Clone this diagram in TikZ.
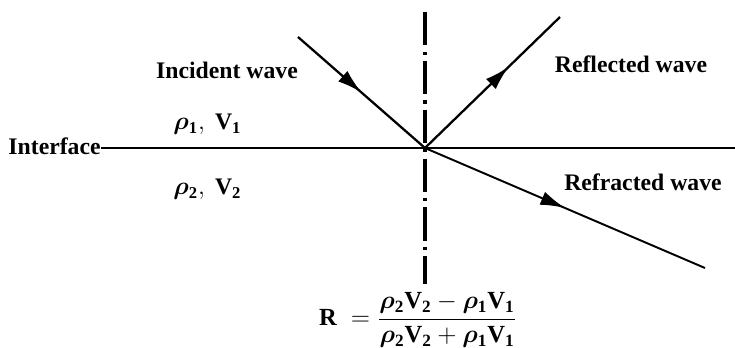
\documentclass[tikz,border=0pt]{standalone}
\usepackage{amsmath}
\usepackage{bm}
\usepackage{fontspec}
\setmainfont{Liberation Serif}
\usetikzlibrary{arrows.meta, decorations.markings}

\begin{document}
\begin{tikzpicture}[
    x=0.02cm, y=-0.02cm,
    lbl/.style={font=\fontsize{13.5}{15}\selectfont\bfseries, inner sep=0pt},
    eqn/.style={font=\fontsize{14}{16}\selectfont, inner sep=0pt},
    ray/.style={line width=1.3pt, postaction={decorate},
        decoration={markings, mark=at position #1 with {\arrow{Latex[length=14pt,width=8pt]}}}},
    normal/.style={line width=2.2pt, dash pattern=on 19pt off 3.5pt on 1.8pt off 3.5pt},
    iface/.style={line width=0.6pt},
]
\useasboundingbox (0,0) rectangle (735,348);

% points of the rays
\coordinate (O) at (425,148);
\coordinate (src) at (298,37);
\coordinate (reflend) at (560,17);
\coordinate (refrend) at (705,268);
\coordinate (ntop) at (425,12);
\coordinate (nbot) at (425,284);
\coordinate (rightend) at (735,148);

% labels
\node[lbl, anchor=base east] (iface) at (101,155) {Interface};
\node[lbl] (inc) at (227,70) {Incident wave};
\node[lbl] (refl) at (631,64) {Reflected wave};
\node[lbl] (refr) at (643,182) {Refracted wave};
\node[lbl, anchor=base west] (med1) at (173,130) {$\bm{\rho}_{\mathbf{1}},\ \mathbf{V}_{\mathbf{1}}$};
\node[lbl, anchor=base west] (med2) at (173,195) {$\bm{\rho}_{\mathbf{2}},\ \mathbf{V}_{\mathbf{2}}$};
\node[eqn] (coef) at (418,320)
    {$\mathbf{R}\;=\dfrac{\bm{\rho}_{\mathbf{2}}\mathbf{V}_{\mathbf{2}}-\bm{\rho}_{\mathbf{1}}\mathbf{V}_{\mathbf{1}}}{\bm{\rho}_{\mathbf{2}}\mathbf{V}_{\mathbf{2}}+\bm{\rho}_{\mathbf{1}}\mathbf{V}_{\mathbf{1}}}$};

% normal and interface
\draw[normal] (ntop) -- (nbot);
\draw[iface] (O -| iface.east) -- (rightend);

% rays
\draw[ray=0.5] (src) -- (O);
\draw[ray=0.62] (O) -- (reflend);
\draw[ray=0.5, line width=1.1pt] (O) -- (refrend);

\end{tikzpicture}
\end{document}
